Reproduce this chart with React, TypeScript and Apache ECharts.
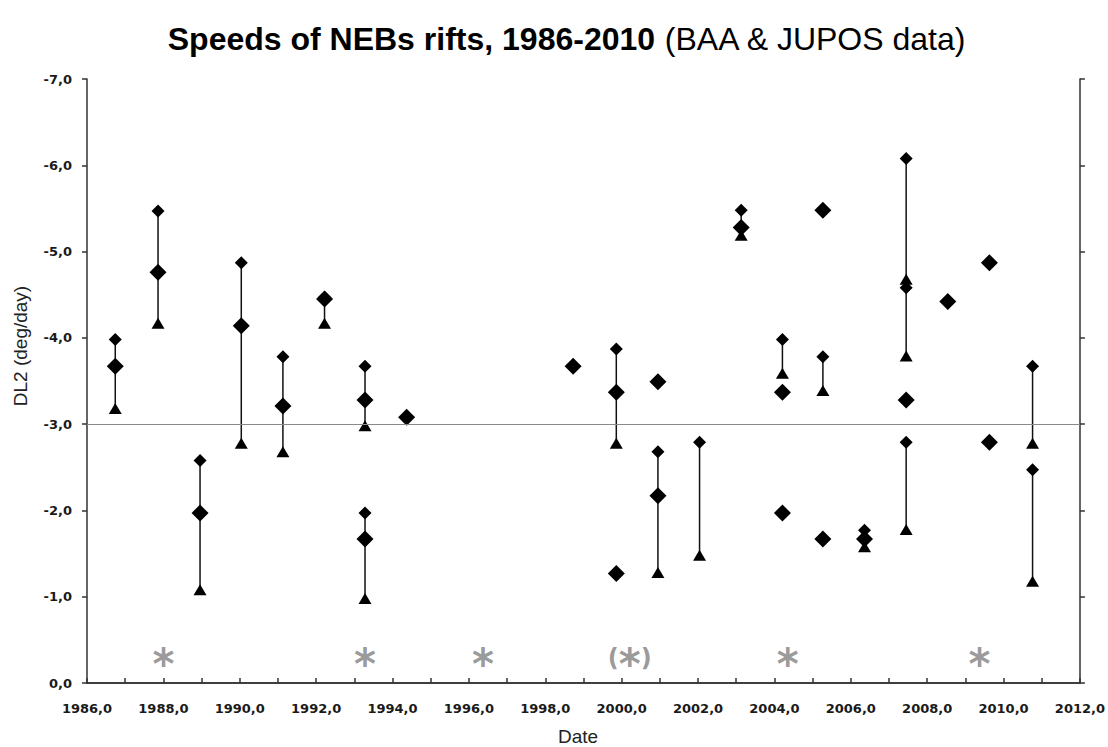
import React, { useEffect, useRef } from "react";
import * as echarts from "echarts";

// ---- data ----
const titleBold = "Speeds of NEBs rifts, 1986-2010";
const titleNormal = " (BAA & JUPOS data)";
const xTitle = "Date";
const yTitle = "DL2 (deg/day)";

const referenceLevel = -3;

const bigDiamonds: number[][] = [
  [1986.74, -3.67],
  [1987.86, -4.76],
  [1988.96, -1.97],
  [1990.04, -4.14],
  [1991.13, -3.21],
  [1992.22, -4.45],
  [1993.28, -3.28],
  [1993.28, -1.67],
  [1994.37, -3.08],
  [1998.73, -3.67],
  [1999.86, -3.37],
  [1999.86, -1.27],
  [2000.95, -3.49],
  [2000.95, -2.17],
  [2003.13, -5.28],
  [2004.21, -3.37],
  [2004.21, -1.97],
  [2005.27, -5.48],
  [2005.27, -1.67],
  [2006.36, -1.67],
  [2007.45, -3.28],
  [2008.54, -4.42],
  [2009.63, -4.87],
  [2009.63, -2.79],
];

const smallDiamonds: number[][] = [
  [1986.74, -3.98],
  [1987.86, -5.47],
  [1988.96, -2.58],
  [1990.04, -4.87],
  [1991.13, -3.78],
  [1992.22, -4.47],
  [1993.28, -3.67],
  [1993.28, -1.97],
  [1999.86, -3.87],
  [2000.95, -2.68],
  [2002.04, -2.79],
  [2003.13, -5.48],
  [2004.21, -3.98],
  [2005.27, -3.78],
  [2006.36, -1.77],
  [2007.45, -6.08],
  [2007.45, -4.58],
  [2007.45, -2.79],
  [2010.76, -3.67],
  [2010.76, -2.47],
];

const triangles: number[][] = [
  [1986.74, -3.18],
  [1987.86, -4.17],
  [1988.96, -1.08],
  [1990.04, -2.78],
  [1991.13, -2.68],
  [1992.22, -4.17],
  [1993.28, -2.98],
  [1993.28, -0.98],
  [1999.86, -2.78],
  [2000.95, -1.28],
  [2002.04, -1.48],
  [2003.13, -5.19],
  [2004.21, -3.59],
  [2005.27, -3.39],
  [2006.36, -1.58],
  [2007.45, -4.68],
  [2007.45, -3.79],
  [2007.45, -1.78],
  [2010.76, -2.78],
  [2010.76, -1.18],
];

// [x, from, to]
const segments: number[][] = [
  [1986.74, -3.98, -3.18],
  [1987.86, -5.47, -4.17],
  [1988.96, -2.58, -1.08],
  [1990.04, -4.87, -2.78],
  [1991.13, -3.78, -2.68],
  [1992.22, -4.47, -4.17],
  [1993.28, -3.67, -2.98],
  [1993.28, -1.97, -0.98],
  [1999.86, -3.87, -2.78],
  [2000.95, -2.68, -1.28],
  [2002.04, -2.79, -1.48],
  [2003.13, -5.48, -5.19],
  [2004.21, -3.98, -3.59],
  [2005.27, -3.78, -3.39],
  [2006.36, -1.77, -1.58],
  [2007.45, -6.08, -3.79],
  [2007.45, -2.79, -1.78],
  [2010.76, -3.67, -2.78],
  [2010.76, -2.47, -1.18],
];

const asteriskX = [1988.0, 1993.28, 1996.37, 2000.21, 2004.35, 2009.37];
const asteriskText = ["*", "*", "*", "(*)", "*", "*"];
const asteriskLevel = -0.3;

const fmt = (v: number) => v.toFixed(1).replace(".", ",");

export default function App() {
  const ref = useRef<HTMLDivElement>(null);
  useEffect(() => {
    if (!ref.current) return;
    const chart = echarts.init(ref.current, null, { renderer: "svg" });
    const axisColor = "#333";
    const labelStyle = {
      color: "#1a1a1a",
      fontFamily: "DejaVu Sans",
      fontWeight: "bold" as const,
      fontSize: 13,
    };
    chart.setOption({
      animation: false,
      backgroundColor: "#fff",
      title: {
        text: `{b|${titleBold}}{n|${titleNormal}}`,
        left: 562,
        top: 18,
        textAlign: "center",
        textStyle: {
          rich: {
            b: { fontFamily: "Liberation Sans", fontWeight: "bold", fontSize: 32, color: "#000" },
            n: { fontFamily: "Liberation Sans", fontWeight: "normal", fontSize: 32, color: "#000" },
          },
        },
      },
      graphic: [
        {
          type: "text",
          x: 20,
          y: 346,
          rotation: Math.PI / 2,
          style: {
            text: yTitle,
            fontFamily: "Liberation Sans",
            fontSize: 19,
            fill: "#222",
            align: "center",
            verticalAlign: "middle",
          },
        },
        {
          type: "text",
          x: 578,
          y: 736,
          style: {
            text: xTitle,
            fontFamily: "Liberation Sans",
            fontSize: 19,
            fill: "#222",
            align: "center",
            verticalAlign: "middle",
          },
        },
      ],
      grid: { left: 87, right: 27, top: 79, bottom: 64, containLabel: false },
      xAxis: [
        {
          type: "value",
          min: 1986,
          max: 2012,
          interval: 2,
          axisLine: { show: true, lineStyle: { color: axisColor, width: 1.5 } },
          axisTick: { show: true, inside: true, length: 5, lineStyle: { color: axisColor, width: 1.5 } },
          minorTick: { show: true, splitNumber: 2, length: 5, lineStyle: { color: axisColor, width: 1.5 } },
          splitLine: { show: false },
          axisLabel: { ...labelStyle, margin: 19, formatter: fmt },
        },
        {
          type: "value",
          position: "top",
          min: 1986,
          max: 2012,
          axisLine: { show: true, lineStyle: { color: axisColor, width: 1.5 } },
          axisTick: { show: false },
          axisLabel: { show: false },
          splitLine: { show: false },
        },
      ],
      yAxis: [
        {
          type: "value",
          min: -7,
          max: 0,
          interval: 1,
          inverse: true,
          axisLine: { show: true, lineStyle: { color: axisColor, width: 1.5 } },
          axisTick: { show: true, inside: false, length: 5, lineStyle: { color: axisColor, width: 1.5 } },
          splitLine: { show: false },
          axisLabel: { ...labelStyle, margin: 15, formatter: fmt },
        },
        {
          type: "value",
          position: "right",
          min: -7,
          max: 0,
          interval: 1,
          inverse: true,
          axisLine: { show: true, lineStyle: { color: axisColor, width: 1.5 } },
          axisTick: { show: true, inside: false, length: 5, lineStyle: { color: axisColor, width: 1.5 } },
          axisLabel: { show: false },
          splitLine: { show: false },
        },
      ],
      series: [
        {
          type: "custom",
          name: "ranges",
          data: segments,
          encode: { x: 0, y: [1, 2] },
          z: 1,
          renderItem: (params: any, api: any) => {
            const x = api.value(0);
            const p1 = api.coord([x, api.value(1)]);
            const p2 = api.coord([x, api.value(2)]);
            return {
              type: "line",
              shape: { x1: p1[0], y1: p1[1], x2: p2[0], y2: p2[1] },
              style: { stroke: "#111", lineWidth: 1.5 },
            };
          },
          markLine: {
            silent: true,
            symbol: "none",
            label: { show: false },
            lineStyle: { color: "#8a8a8a", width: 1, type: "solid" },
            data: [{ yAxis: referenceLevel }],
          },
        },
        {
          type: "scatter",
          name: "triangles",
          data: triangles,
          symbol: "triangle",
          symbolSize: [13, 11],
          itemStyle: { color: "#000", opacity: 1 },
          z: 3,
        },
        {
          type: "scatter",
          name: "big",
          data: bigDiamonds,
          symbol: "diamond",
          symbolSize: [17, 17],
          itemStyle: { color: "#000", opacity: 1 },
          z: 4,
        },
        {
          type: "scatter",
          name: "small",
          data: smallDiamonds,
          symbol: "diamond",
          symbolSize: [13, 13],
          itemStyle: { color: "#000", opacity: 1 },
          z: 5,
        },
        {
          type: "scatter",
          name: "apparitions",
          data: asteriskX.map((x, i) => ({ value: [x, asteriskLevel], name: asteriskText[i] })),
          symbolSize: 0,
          z: 6,
          label: {
            show: true,
            position: "inside",
            offset: [0, 7],
            formatter: (p: any) => (p.name === "(*)" ? "{p|(}{s|*}{p|)}" : "{s|*}"),
            rich: {
              s: { fontFamily: "DejaVu Sans", fontWeight: "bold", fontSize: 42, color: "#808080" },
              p: { fontFamily: "DejaVu Sans", fontWeight: "bold", fontSize: 24, color: "#808080", padding: [0, 0, 12, 0] },
            },
          },
        },
      ],
    });
    return () => chart.dispose();
  }, []);
  return (
    <div
      ref={ref}
      style={{ position: "absolute", left: 0, top: 0, width: 1108, height: 747 }}
    />
  );
}
